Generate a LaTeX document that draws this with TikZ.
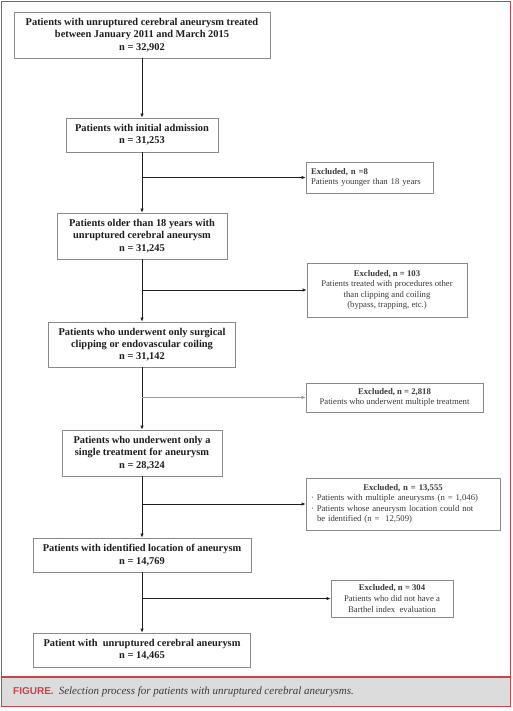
\documentclass[tikz,border=0pt]{standalone}
\usepackage{fontspec}
\setmainfont{Liberation Serif}
\newfontfamily\capsans{Liberation Sans}
\usetikzlibrary{arrows.meta,positioning}
\definecolor{ink}{HTML}{1E1E1E}
\definecolor{inksoft}{HTML}{3A3A3A}
\definecolor{boxbd}{HTML}{8A8A8A}
\definecolor{framered}{HTML}{C8424C}
\definecolor{capbg}{HTML}{DCDCDC}
\definecolor{thinln}{HTML}{9A9A9A}
\tikzset{
  mainbox/.style={rectangle,draw=boxbd,line width=0.8pt,fill=white,text=ink,align=center,
    font=\fontsize{10.4}{12.3}\selectfont\bfseries,inner sep=0pt},
  exclbox/.style={rectangle,draw=boxbd,line width=0.8pt,fill=white,text=inksoft,align=center,
    font=\fontsize{8.7}{10.6}\selectfont,inner sep=0pt},
  flowarr/.style={-{Latex[length=4pt,width=3.5pt]},line width=0.9pt,color=ink},
}

\begin{document}
\begin{tikzpicture}[x=1pt,y=-1pt]
  \useasboundingbox (0,0) rectangle (513,711);
  % frame and caption strip
  \fill[capbg] (1.5,677) rectangle (510.5,706.5);
  \draw[framered,line width=1.2pt] (1.5,1.5) rectangle (510.5,706.5);
  \draw[framered,line width=1.2pt] (1.5,677) -- (510.5,677);
  \node[anchor=west,inner sep=0pt] (cap) at (13,692)
    {{\capsans\bfseries\fontsize{10}{12}\selectfont\color{framered}FIGURE.}\enspace
     {\fontsize{11}{13}\selectfont\itshape\color{inksoft}Selection process for patients with unruptured cerebral aneurysms.}};

  % main column
  \node[mainbox,minimum width=256,minimum height=46] (b1) at (142,35)
    {Patients with unruptured cerebral aneurysm treated\\between January 2011 and March 2015\\n = 32,902};
  \node[mainbox,minimum width=152,minimum height=34] (b2) at (142,135)
    {Patients with initial admission\\n = 31,253};
  \node[mainbox,minimum width=170,minimum height=46] (b3) at (142,236)
    {Patients older than 18 years with\\unruptured cerebral aneurysm\\n = 31,245};
  \node[mainbox,minimum width=187,minimum height=45] (b4) at (142,344.5)
    {Patients who underwent only surgical\\clipping or endovascular coiling\\n = 31,142};
  \node[mainbox,minimum width=160,minimum height=46] (b5) at (142,453)
    {Patients who underwent only a\\single treatment for aneurysm\\n = 28,324};
  \node[mainbox,minimum width=218,minimum height=34] (b6) at (142,555)
    {Patients with identified location of aneurysm\\n = 14,769};
  \node[mainbox,minimum width=217,minimum height=34] (b7) at (142,650)
    {Patient with\ \ unruptured cerebral aneurysm\\n = 14,465};

  % exclusions
  \node[exclbox,minimum width=127,minimum height=31,align=left,text width=117] (x8) at (369.5,177.5)
    {\textbf{Excluded, n =8}\\Patients younger than 18 years};
  \node[exclbox,minimum width=160,minimum height=54] (x103) at (387,290)
    {\textbf{Excluded, n = 103}\\Patients treated with procedures other\\than clipping and coiling\\(bypass, trapping, etc.)};
  \node[exclbox,minimum width=177,minimum height=29] (x2818) at (394.5,397.5)
    {\textbf{Excluded, n = 2,818}\\Patients who underwent multiple treatment};
  \node[exclbox,minimum width=194,minimum height=52,align=left,text width=184] (x13555) at (403,504)
    {\makebox[\linewidth]{\bfseries Excluded, n = 13,555}\\
     \textperiodcentered\ Patients with multiple aneurysms (n = 1,046)\\
     \textperiodcentered\ Patients whose aneurysm location could not\\
     \hspace*{6pt}be identified (n =\ \ 12,509)};
  \node[exclbox,minimum width=122,minimum height=37] (x304) at (392,598.5)
    {\textbf{Excluded, n = 304}\\Patients who did not have a\\Barthel index\ \ evaluation};

  \draw[flowarr] (b1) -- (b2);
  \draw[flowarr] (b2) -- (b3);
  \draw[flowarr] (b3) -- (b4);
  \draw[flowarr] (b4) -- (b5);
  \draw[flowarr] (b5) -- (b6);
  \draw[flowarr] (b6) -- (b7);
  \draw[flowarr] (b2.south |- x8.west) -- (x8.west);
  \draw[flowarr] (b3.south |- x103.west) -- (x103.west);
  \draw[flowarr,line width=0.5pt,color=thinln] (b4.south |- x2818.west) -- (x2818.west);
  \draw[flowarr] (b5.south |- x13555.west) -- (x13555.west);
  \draw[flowarr] (b6.south |- x304.west) -- (x304.west);
\end{tikzpicture}
\end{document}
